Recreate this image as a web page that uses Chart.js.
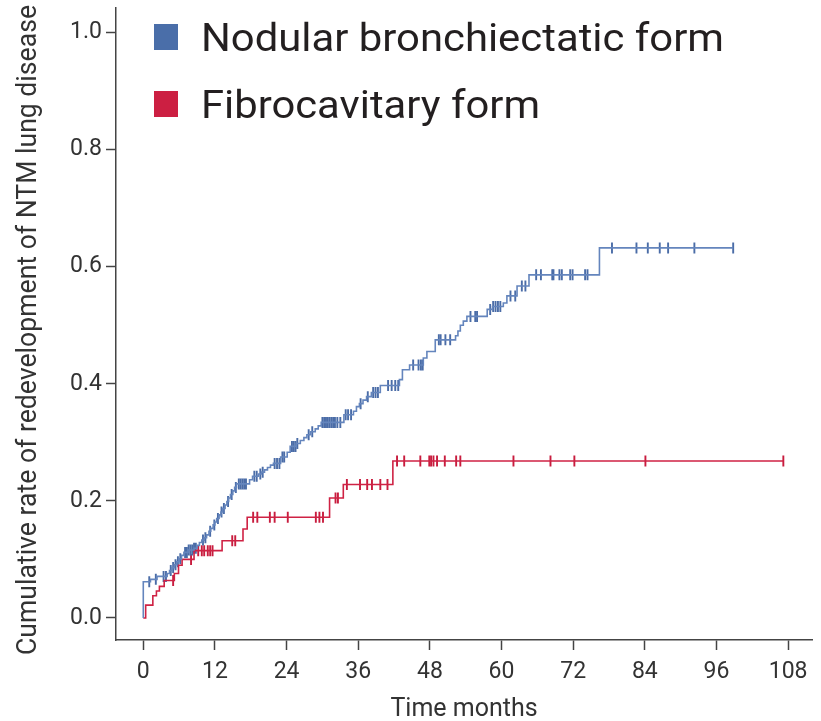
<!DOCTYPE html>
<html><head><meta charset="utf-8">
<script src="https://cdn.jsdelivr.net/npm/chart.js@4.4.1/dist/chart.umd.min.js"></script>
<style>html,body{margin:0;padding:0;background:#fff}#wrap{width:821px;height:721px}</style>
</head><body><div id="wrap"><canvas id="c" width="821" height="721"></canvas></div>
<script>
const seriesNames = ['Nodular bronchiectatic form', 'Fibrocavitary form'];
const xTickValues = [0, 12, 24, 36, 48, 60, 72, 84, 96, 108];
const yTickValues = [0, 0.2, 0.4, 0.6, 0.8, 1.0];
const xTitle = 'Time months';
const yTitle = 'Cumulative rate of redevelopment of NTM lung disease';

// Nodular bronchiectatic form: event times (months) and cumulative rate after each step
const nbTimes = [0, 0, 1.2, 2.3, 4.0, 4.4, 4.8, 5.2, 5.6, 6.0, 6.4, 6.8, 7.5, 8.5, 9.0, 9.4, 9.8, 10.2, 10.6, 11.0, 11.3, 11.7, 12.0, 12.3, 12.7, 13.0, 13.3, 13.7, 14.0, 14.3, 14.6, 15.0, 15.3, 15.6, 17.8, 18.3, 19.3, 19.8, 20.3, 20.8, 21.3, 21.8, 23.0, 24.1, 24.6, 25.6, 26.3, 26.9, 27.4, 28.0, 28.8, 29.3, 29.8, 33.6, 35.2, 35.7, 36.2, 36.8, 37.4, 38.2, 39.7, 42.9, 43.4, 44.6, 46.9, 47.5, 48.9, 52.3, 52.7, 53.1, 53.6, 54.2, 57.6, 58.5, 60.3, 60.9, 62.6, 64.6, 76.4];
const nbRates = [0, 0.062, 0.066, 0.071, 0.076, 0.081, 0.086, 0.091, 0.096, 0.101, 0.107, 0.112, 0.116, 0.119, 0.124, 0.129, 0.133, 0.137, 0.142, 0.148, 0.153, 0.159, 0.164, 0.170, 0.176, 0.181, 0.187, 0.193, 0.199, 0.205, 0.211, 0.217, 0.223, 0.229, 0.236, 0.242, 0.246, 0.249, 0.253, 0.257, 0.261, 0.264, 0.275, 0.283, 0.293, 0.298, 0.303, 0.308, 0.313, 0.318, 0.323, 0.328, 0.334, 0.347, 0.353, 0.361, 0.366, 0.372, 0.378, 0.385, 0.397, 0.407, 0.424, 0.432, 0.444, 0.455, 0.475, 0.482, 0.490, 0.500, 0.507, 0.515, 0.527, 0.532, 0.538, 0.550, 0.567, 0.586, 0.632];
const nbCensored = [1.0, 2.1, 3.4, 3.8, 4.6, 5.0, 5.4, 5.8, 6.2, 7.0, 7.3, 7.6, 7.9, 8.2, 8.5, 8.8, 10.0, 10.4, 11.2, 11.9, 12.5, 13.1, 13.5, 14.2, 14.8, 15.5, 16.0, 16.3, 16.6, 16.9, 17.2, 18.6, 19.0, 19.6, 20.0, 22.0, 22.4, 22.8, 23.3, 23.6, 24.9, 25.2, 25.5, 25.8, 27.7, 28.3, 30.0, 30.3, 30.6, 30.9, 31.2, 31.5, 31.8, 32.1, 32.5, 33.0, 33.9, 34.3, 34.8, 36.4, 37.6, 38.5, 38.9, 39.3, 41.0, 41.6, 42.2, 42.7, 45.2, 46.1, 46.5, 46.8, 49.5, 49.8, 50.6, 51.4, 54.8, 55.6, 55.9, 58.1, 58.6, 59.0, 59.4, 59.8, 61.5, 62.3, 63.4, 64.0, 65.8, 66.6, 68.5, 68.7, 69.7, 70.1, 71.5, 71.9, 74.0, 74.4, 78.5, 82.6, 84.5, 86.5, 87.9, 92.3, 98.8];
const nbEnd = 98.8;

// Fibrocavitary form
const fcTimes = [0, 0.4, 1.6, 2.2, 2.7, 3.5, 5.2, 5.9, 6.5, 8.5, 13.2, 16.7, 17.4, 31.2, 33.5, 41.8];
const fcRates = [0, 0.022, 0.038, 0.046, 0.054, 0.064, 0.076, 0.090, 0.100, 0.115, 0.132, 0.152, 0.172, 0.205, 0.228, 0.268];
const fcCensored = [5.0, 8.0, 9.2, 9.8, 10.2, 10.8, 11.2, 11.6, 14.9, 15.4, 18.4, 19.1, 21.2, 22.0, 24.2, 28.9, 29.5, 30.1, 32.2, 32.6, 34.1, 36.3, 37.5, 38.3, 39.7, 40.9, 42.5, 43.7, 46.4, 47.9, 48.2, 48.6, 49.2, 50.5, 52.4, 53.1, 62.0, 68.2, 72.2, 84.1, 107.2];
const fcEnd = 107.2;

const colors = { nbLine: '#6485bd', nbMark: '#4a6ca7', nbBox: '#4a6ea9', fcLine: '#cf2244', fcMark: '#c81c3e', fcBox: '#cc1f42' };
const FONT = 'Roboto, "Liberation Sans", sans-serif';

function stepPoints(times, rates, end) {
  const pts = times.map((t, i) => ({ x: t, y: rates[i] }));
  pts.push({ x: end, y: rates[rates.length - 1] });
  return pts;
}
function censorPoints(times, rates, cens) {
  return cens.map(c => {
    let v = 0;
    for (let i = 0; i < times.length; i++) if (times[i] <= c) v = rates[i];
    return { x: c, y: v };
  });
}

const textPlugin = {
  id: 'customText',
  afterDraw(chart) {
    const ctx = chart.ctx;
    const items = [
      { text: seriesNames[0], color: colors.nbBox, y: 51, w: 523 },
      { text: seriesNames[1], color: colors.fcBox, y: 118, w: 339 }
    ];
    ctx.save();
    items.forEach(it => {
      ctx.fillStyle = it.color;
      ctx.fillRect(154, it.y - 27, 24, 26);
      ctx.fillStyle = '#231f20';
      ctx.font = '38px ' + FONT;
      ctx.textBaseline = 'alphabetic';
      ctx.textAlign = 'left';
      const sx = it.w / ctx.measureText(it.text).width;
      ctx.save();
      ctx.translate(201, it.y);
      ctx.scale(sx, 1);
      ctx.fillText(it.text, 0, 0);
      ctx.restore();
    });
    // y-axis title
    ctx.save();
    ctx.font = '27px ' + FONT;
    ctx.fillStyle = '#333';
    ctx.textAlign = 'center';
    ctx.textBaseline = 'middle';
    const sy = 650 / ctx.measureText(yTitle).width;
    ctx.translate(29, 330);
    ctx.rotate(-Math.PI / 2);
    ctx.scale(sy, 1);
    ctx.fillText(yTitle, 0, 0);
    ctx.restore();
    ctx.restore();
  }
};

new Chart(document.getElementById('c'), {
  type: 'line',
  data: {
    datasets: [
      { label: seriesNames[0], data: stepPoints(nbTimes, nbRates, nbEnd), stepped: true, borderColor: colors.nbLine, borderWidth: 1.6, pointRadius: 0, fill: false },
      { label: seriesNames[1], data: stepPoints(fcTimes, fcRates, fcEnd), stepped: true, borderColor: colors.fcLine, borderWidth: 1.6, pointRadius: 0, fill: false },
      { type: 'scatter', label: 'nb censored', data: censorPoints(nbTimes, nbRates, nbCensored), showLine: false, pointStyle: 'line', rotation: 90, pointRadius: 5.5, borderWidth: 1.9, borderColor: colors.nbMark, backgroundColor: colors.nbMark },
      { type: 'scatter', label: 'fc censored', data: censorPoints(fcTimes, fcRates, fcCensored), showLine: false, pointStyle: 'line', rotation: 90, pointRadius: 5.5, borderWidth: 1.9, borderColor: colors.fcMark, backgroundColor: colors.fcMark }
    ]
  },
  options: {
    responsive: false,
    animation: false,
    devicePixelRatio: 1,
    layout: { padding: { top: 0, right: 9, left: 0, bottom: 0 } },
    plugins: { legend: { display: false }, tooltip: { enabled: false } },
    scales: {
      x: {
        type: 'linear', min: -4.57, max: 112,
        afterBuildTicks: s => { s.ticks = xTickValues.map(v => ({ value: v })); },
        afterFit: s => { s.height = 81; s.paddingLeft = 0; s.paddingRight = 0; },
        ticks: { color: '#333', font: { family: FONT, size: 23 }, padding: 8, maxRotation: 0, autoSkip: false, callback: v => String(v) },
        grid: { drawOnChartArea: false, drawTicks: true, tickLength: 10, tickColor: '#444', tickWidth: 1.5 },
        border: { display: true, color: '#444', width: 1.5 },
        title: { display: true, text: xTitle, color: '#333', font: { family: FONT, size: 25 }, padding: { top: 0, bottom: -4 } }
      },
      y: {
        type: 'linear', min: -0.0376, max: 1.0427,
        afterBuildTicks: s => { s.ticks = yTickValues.map(v => ({ value: v })); },
        afterFit: s => { s.width = 116; s.paddingTop = 0; s.paddingBottom = 0; },
        ticks: { color: '#333', font: { family: FONT, size: 23 }, padding: 4, autoSkip: false, callback: v => Number(v).toFixed(1) },
        grid: { drawOnChartArea: false, drawTicks: true, tickLength: 10, tickColor: '#444', tickWidth: 1.5 },
        border: { display: true, color: '#444', width: 1.5 },
        title: { display: false }
      }
    }
  },
  plugins: [textPlugin]
});
</script>
</body></html>
